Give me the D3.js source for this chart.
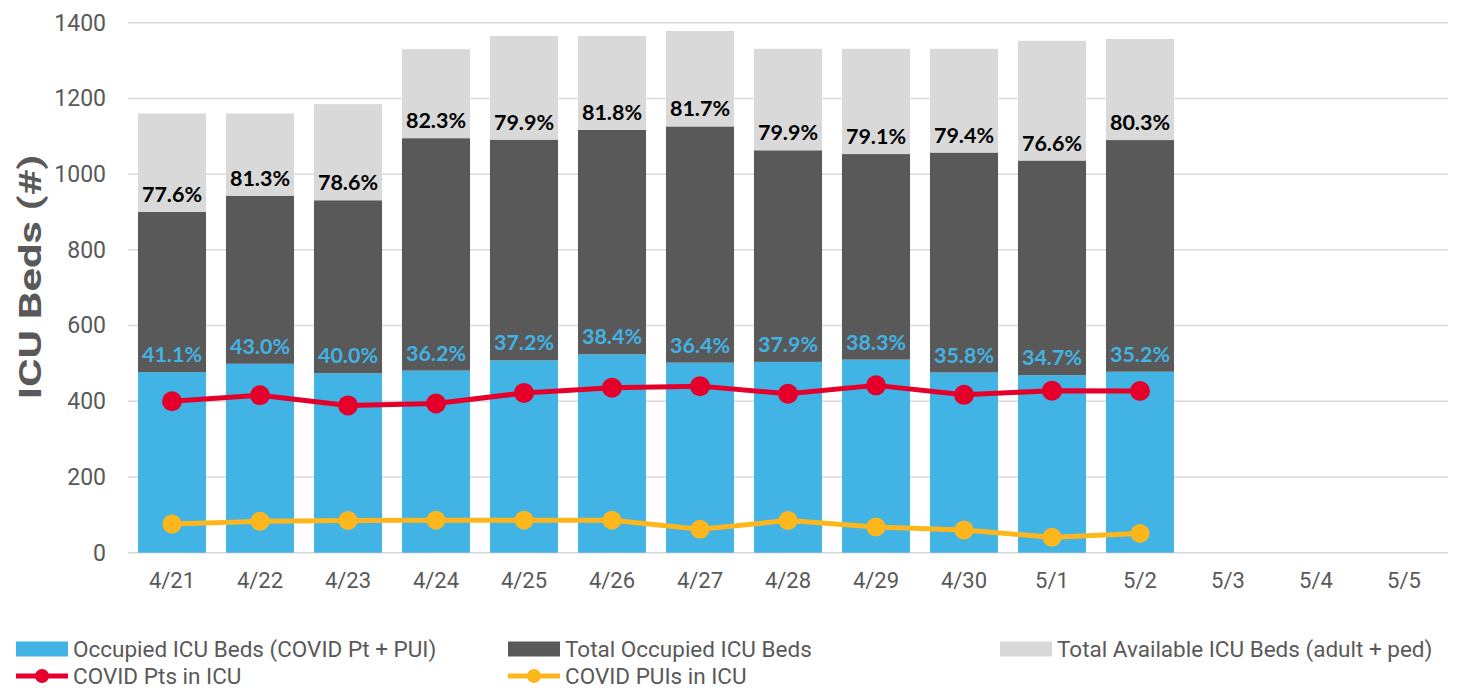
<!DOCTYPE html>
<html>
<head>
<meta charset="utf-8">
<script src="https://cdn.jsdelivr.net/npm/d3@7"></script>
<style>
	body { margin:0; background:#FFFFFF; }
	svg { display:block; }
</style>
</head>
<body>
<svg id="icuChart"></svg>
<script>
// ICU beds per day
let dayLbls 		= [ "4/21", "4/22", "4/23", "4/24", "4/25", "4/26", "4/27", "4/28", "4/29", "4/30", "5/1", "5/2", "5/3", "5/4", "5/5" ] ;
let covidOccBeds 	= [ 477, 499, 474, 481, 508, 524, 502, 504, 510, 476, 469, 478 ] ;
let totalOccBeds 	= [ 900, 943, 931, 1095, 1091, 1117, 1126, 1063, 1053, 1057, 1036, 1090 ] ;
let totalBeds 		= [ 1160, 1160, 1185, 1330, 1365, 1365, 1378, 1331, 1331, 1331, 1352, 1357 ] ;
let covidPtsIcu 	= [ 400, 416, 389, 394, 422, 436, 440, 420, 442, 417, 428, 427 ] ;
let covidPuisIcu 	= [ 76, 83, 85, 86, 86, 86, 62, 85, 68, 60, 41, 51 ] ;
let yTicks 			= [ 0, 200, 400, 600, 800, 1000, 1200, 1400 ] ;

let clrBlue 	= "#41B3E4" ;
let clrDark 	= "#595959" ;
let clrLight 	= "#D9D9D9" ;
let clrRed 		= "#E4002B" ;
let clrYellow 	= "#FDB71C" ;
let clrGrid 	= "#D9D9D9" ;
let clrTxt 		= "#595959" ;

let W = 1473, H = 690 ;
let plotL = 128, plotR = 1448, plotT = 22.7, plotB = 552.7 ;

let mySvg = d3.select("#icuChart")
	.attr("width", W)
	.attr("height", H)
	.style("font-family", "Roboto")
;

let xSc = d3.scaleBand()
	.domain( dayLbls )
	.range([ plotL, plotR ])
	.paddingInner( 0.227 )
	.paddingOuter( 0.1135 )
;
let ySc = d3.scaleLinear()
	.domain([ 0, 1400 ])
	.range([ plotB, plotT ])
;

// gridlines
mySvg.append("g")
	.selectAll("line")
	.data( yTicks ).enter().append("line")
		.attr("x1", plotL)
		.attr("x2", plotR)
		.attr("y1", (d)=>{ return ySc(d); })
		.attr("y2", (d)=>{ return ySc(d); })
		.attr("stroke", clrGrid)
		.attr("stroke-width", 1.5)
;

// y axis (no line, labels only)
let yAx = mySvg.append("g")
	.attr("transform", "translate(" + plotL + ",0)")
	.call( d3.axisLeft(ySc).tickValues(yTicks).tickFormat(d3.format("d")).tickSize(0).tickPadding(22) )
;
yAx.select(".domain").remove() ;
yAx.selectAll("text")
	.style("font-family", "Roboto")
	.style("font-size", "23px")
	.attr("fill", clrTxt)
;

let xAx = mySvg.append("g")
	.attr("transform", "translate(0," + plotB + ")")
	.call( d3.axisBottom(xSc).tickSize(0).tickPadding(20) )
;
xAx.select(".domain").remove() ;
xAx.selectAll("text")
	.style("font-family", "Roboto")
	.style("font-size", "22px")
	.attr("fill", clrTxt)
;

// axis title, stretched along its length like the source
mySvg.append("text")
	.attr("transform", "translate(41," + 277 + ") rotate(-90) scale(1.4,1)")
	.attr("text-anchor", "middle")
	.style("font-family", "Roboto")
	.style("font-weight", "bold")
	.style("font-size", "31px")
	.attr("fill", clrTxt)
	.text("ICU Beds (#)")
;

// stacked bars
let barRows = totalBeds.map( (t, i)=>{
	return { day: dayLbls[i], covid: covidOccBeds[i], other: totalOccBeds[i] - covidOccBeds[i], avail: t - totalOccBeds[i] } ;
}) ;
let stackGen = d3.stack().keys([ "covid", "other", "avail" ]) ;
let stackClrs = [ clrBlue, clrDark, clrLight ] ;

mySvg.append("g")
	.selectAll("g")
	.data( stackGen(barRows) ).enter().append("g")
		.attr("fill", (d, i)=>{ return stackClrs[i]; })
	.selectAll("rect")
	.data( (d)=>{ return d; } ).enter().append("rect")
		.attr("x", (d)=>{ return xSc(d.data.day); })
		.attr("width", xSc.bandwidth())
		.attr("y", (d)=>{ return ySc(d[1]); })
		.attr("height", (d)=>{ return ySc(d[0]) - ySc(d[1]); })
;

// percent labels
let pctFmt = (v)=>{ return (v * 100).toFixed(1) + "%" ; } ;

mySvg.append("g")
	.selectAll("text")
	.data( barRows ).enter().append("text")
		.attr("x", (d)=>{ return xSc(d.day) + xSc.bandwidth() / 2; })
		.attr("y", (d)=>{ return ySc(d.covid + d.other) - 10; })
		.attr("text-anchor", "middle")
		.style("font-family", "Lato")
		.style("font-weight", "bold")
		.style("font-size", "21.5px")
		.attr("fill", "#000000")
		.text( (d)=>{ return pctFmt( (d.covid + d.other) / (d.covid + d.other + d.avail) ); } )
;

mySvg.append("g")
	.selectAll("text")
	.data( barRows ).enter().append("text")
		.attr("x", (d)=>{ return xSc(d.day) + xSc.bandwidth() / 2; })
		.attr("y", (d)=>{ return ySc(d.covid) - 10; })
		.attr("text-anchor", "middle")
		.style("font-family", "Lato")
		.style("font-weight", "bold")
		.style("font-size", "21.5px")
		.attr("fill", clrBlue)
		.text( (d)=>{ return pctFmt( d.covid / (d.covid + d.other + d.avail) ); } )
;

// lines
let lineGen = d3.line()
	.x( (d, i)=>{ return xSc(dayLbls[i]) + xSc.bandwidth() / 2; } )
	.y( (d)=>{ return ySc(d); } )
;

[ [ covidPtsIcu, clrRed, 10 ], [ covidPuisIcu, clrYellow, 9.5 ] ].forEach( (sr)=>{
	let g = mySvg.append("g") ;
	g.append("path")
		.datum( sr[0] )
		.attr("d", lineGen)
		.attr("fill", "none")
		.attr("stroke", sr[1])
		.attr("stroke-width", 5)
		.attr("stroke-linejoin", "round")
	;
	g.selectAll("circle")
		.data( sr[0] ).enter().append("circle")
			.attr("cx", (d, i)=>{ return xSc(dayLbls[i]) + xSc.bandwidth() / 2; })
			.attr("cy", (d)=>{ return ySc(d); })
			.attr("r", sr[2])
			.attr("fill", sr[1])
	;
}) ;

// legend
let legItems = [
	{ lbl: "Occupied ICU Beds (COVID Pt + PUI)", clr: clrBlue, kind: "box", x: 16, y: 649 },
	{ lbl: "Total Occupied ICU Beds", clr: clrDark, kind: "box", x: 508, y: 649 },
	{ lbl: "Total Available ICU Beds (adult + ped)", clr: clrLight, kind: "box", x: 1000, y: 649 },
	{ lbl: "COVID Pts in ICU", clr: clrRed, kind: "line", x: 16, y: 676 },
	{ lbl: "COVID PUIs in ICU", clr: clrYellow, kind: "line", x: 508, y: 676 }
] ;

let legG = mySvg.append("g") ;
legItems.forEach( (it)=>{
	if ( it.kind == "box" ) {
		legG.append("rect")
			.attr("x", it.x)
			.attr("y", it.y - 7.5)
			.attr("width", 52)
			.attr("height", 15)
			.attr("fill", it.clr)
		;
	} else {
		legG.append("line")
			.attr("x1", it.x)
			.attr("x2", it.x + 52)
			.attr("y1", it.y)
			.attr("y2", it.y)
			.attr("stroke", it.clr)
			.attr("stroke-width", 5)
		;
		legG.append("circle")
			.attr("cx", it.x + 26)
			.attr("cy", it.y)
			.attr("r", 7)
			.attr("fill", it.clr)
		;
	}
	legG.append("text")
		.attr("x", it.x + 57)
		.attr("y", it.y)
		.attr("dy", "0.35em")
		.style("font-family", "Roboto")
		.style("font-size", "22.5px")
		.attr("fill", clrTxt)
		.text( it.lbl )
	;
}) ;
</script>
</body>
</html>
